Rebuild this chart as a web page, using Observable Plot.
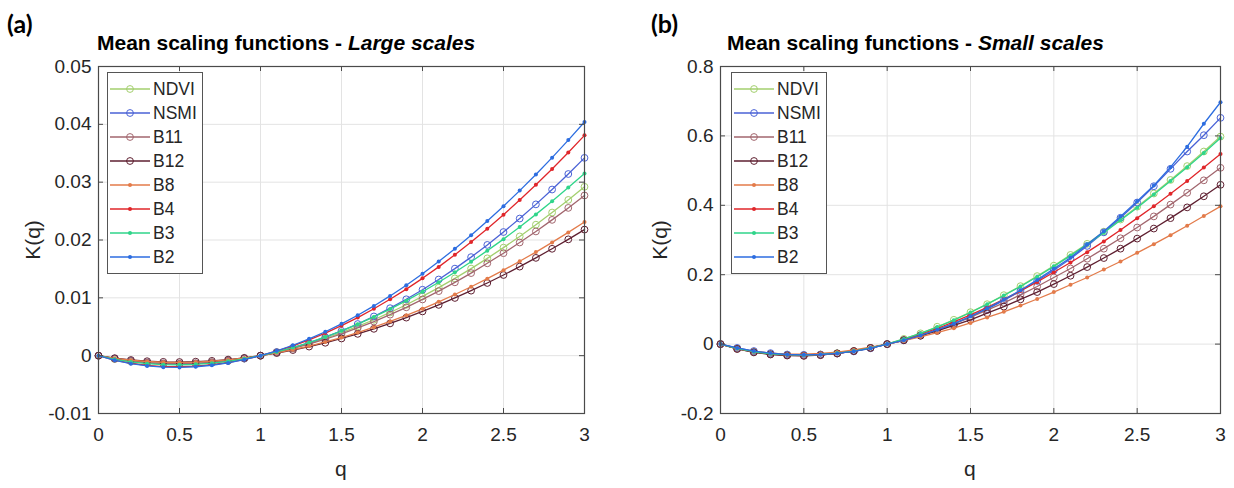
<!DOCTYPE html>
<html><head><meta charset="utf-8">
<script src="https://cdn.jsdelivr.net/npm/d3@7"></script>
<script src="https://cdn.jsdelivr.net/npm/@observablehq/plot@0.6"></script>
<style>
body{margin:0;background:#fff;}
#wrap{position:relative;width:1234px;height:488px;overflow:hidden;font-family:"Liberation Sans",Arial,sans-serif;color:#262626;}
.abs{position:absolute;white-space:nowrap;}
.title{font-weight:bold;font-size:21px;color:#000;line-height:24px;}
.tag{font-family:Lato,"Liberation Sans",sans-serif;font-weight:bold;font-size:25px;color:#000;line-height:26px;}
.axlab{font-size:21px;line-height:22px;}
.legend{position:absolute;background:#fff;border:1px solid #555;box-sizing:border-box;}
.legend .row{display:flex;align-items:center;height:24px;font-size:17.5px;}
.legend svg{margin-right:3px;}
</style></head><body><div id="wrap"></div><script>
// q values
const qVals = [0,0.1,0.2,0.3,0.4,0.5,0.6,0.7,0.8,0.9,1,1.1,1.2,1.3,1.4,1.5,1.6,1.7,1.8,1.9,2,2.1,2.2,2.3,2.4,2.5,2.6,2.7,2.8,2.9,3];
const seriesNames = ["NDVI","NSMI","B11","B12","B8","B4","B3","B2"];
const seriesColors = ["#a3cf6e","#4a62d6","#a2666e","#5e1f30","#e37b4a","#e0262a","#2fd58a","#2c6de0"];
const seriesMarkers = ["circle","circle","circle","circle","dot","dot","dot","dot"];
const xTickVals = [0,0.5,1,1.5,2,2.5,3];
const yTicksLarge = [-0.01,0,0.01,0.02,0.03,0.04,0.05];
const yTicksSmall = [-0.2,0,0.2,0.4,0.6,0.8];

// (a) Large scales
const kLargeNDVI = [0,-0.00058,-0.001,-0.00128,-0.00144,-0.00147,-0.00139,-0.0012,-0.00091,-0.0005,0,0.0006,0.0013,0.0021,0.00299,0.00397,0.00505,0.00621,0.00747,0.00881,0.01024,0.01176,0.01337,0.01506,0.01683,0.01868,0.02062,0.02265,0.02475,0.02693,0.0292];
const kLargeNSMI = [0,-0.00051,-0.00091,-0.0012,-0.00137,-0.00143,-0.00137,-0.0012,-0.00091,-0.00051,0,0.00063,0.00137,0.00222,0.00319,0.00428,0.00547,0.00678,0.00821,0.00975,0.0114,0.01317,0.01505,0.01704,0.01915,0.02138,0.02371,0.02616,0.02873,0.03141,0.0342];
const kLargeB11 = [0,-0.00055,-0.00095,-0.00122,-0.00136,-0.0014,-0.00132,-0.00114,-0.00086,-0.00048,0,0.00057,0.00124,0.00199,0.00284,0.00377,0.00479,0.0059,0.00709,0.00836,0.00972,0.01116,0.01268,0.01428,0.01597,0.01772,0.01957,0.02148,0.02348,0.02555,0.0277];
const kLargeB12 = [0,-0.00043,-0.00075,-0.00096,-0.00107,-0.0011,-0.00104,-0.0009,-0.00068,-0.00038,0,0.00045,0.00097,0.00157,0.00223,0.00297,0.00377,0.00464,0.00558,0.00658,0.00765,0.00878,0.00998,0.01124,0.01257,0.01395,0.0154,0.01691,0.01848,0.02011,0.0218];
const kLargeB8 = [0,-0.00046,-0.00079,-0.00101,-0.00114,-0.00116,-0.0011,-0.00095,-0.00072,-0.0004,0,0.00048,0.00103,0.00166,0.00237,0.00314,0.00399,0.00492,0.00591,0.00697,0.0081,0.00931,0.01058,0.01191,0.01332,0.01478,0.01632,0.01791,0.01958,0.02131,0.0231];
const kLargeB4 = [0,-0.00076,-0.00131,-0.00167,-0.00188,-0.00192,-0.00181,-0.00157,-0.00118,-0.00066,0,0.00079,0.0017,0.00274,0.0039,0.00519,0.00659,0.00811,0.00975,0.0115,0.01337,0.01535,0.01744,0.01964,0.02196,0.02438,0.02691,0.02955,0.03229,0.03514,0.0381];
const kLargeB3 = [0,-0.00063,-0.00108,-0.00138,-0.00155,-0.00159,-0.0015,-0.0013,-0.00098,-0.00054,0,0.00065,0.00141,0.00227,0.00323,0.00429,0.00545,0.0067,0.00806,0.00951,0.01105,0.01269,0.01442,0.01624,0.01816,0.02015,0.02225,0.02443,0.0267,0.02906,0.0315];
const kLargeB2 = [0,-0.0008,-0.00139,-0.00177,-0.00199,-0.00204,-0.00192,-0.00166,-0.00125,-0.0007,0,0.00083,0.0018,0.00291,0.00414,0.0055,0.00699,0.0086,0.01033,0.01219,0.01417,0.01627,0.0185,0.02083,0.02329,0.02585,0.02854,0.03133,0.03424,0.03727,0.0404];

// (b) Small scales
const kSmallNDVI = [0,-0.013,-0.022,-0.028,-0.031,-0.032,-0.030,-0.026,-0.020,-0.011,0,0.015,0.031,0.050,0.070,0.092,0.115,0.141,0.167,0.196,0.226,0.257,0.289,0.324,0.359,0.396,0.434,0.473,0.513,0.555,0.598];
const kSmallNSMI = [0,-0.011,-0.020,-0.026,-0.030,-0.031,-0.030,-0.027,-0.021,-0.012,0,0.011,0.0245,0.040,0.058,0.078,0.101,0.126,0.153,0.182,0.213,0.246,0.283,0.322,0.364,0.408,0.455,0.505,0.555,0.602,0.652];
const kSmallB11 = [0,-0.014,-0.023,-0.029,-0.032,-0.033,-0.031,-0.027,-0.020,-0.011,0,0.012,0.026,0.042,0.059,0.078,0.098,0.119,0.142,0.166,0.192,0.218,0.246,0.275,0.305,0.336,0.368,0.402,0.436,0.472,0.508];
const kSmallB12 = [0,-0.014,-0.024,-0.030,-0.033,-0.034,-0.032,-0.027,-0.020,-0.011,0,0.011,0.024,0.038,0.054,0.070,0.089,0.108,0.129,0.150,0.173,0.197,0.222,0.248,0.275,0.304,0.333,0.363,0.394,0.426,0.459];
const kSmallB8 = [0,-0.013,-0.021,-0.026,-0.029,-0.029,-0.027,-0.023,-0.017,-0.009,0,0.010,0.021,0.033,0.046,0.061,0.077,0.093,0.111,0.130,0.150,0.171,0.192,0.215,0.238,0.263,0.288,0.314,0.341,0.369,0.397];
const kSmallB4 = [0,-0.013,-0.022,-0.028,-0.032,-0.033,-0.031,-0.027,-0.020,-0.011,0,0.013,0.029,0.045,0.064,0.084,0.106,0.129,0.153,0.179,0.207,0.235,0.265,0.296,0.329,0.363,0.397,0.433,0.470,0.509,0.548];
const kSmallB3 = [0,-0.013,-0.022,-0.028,-0.031,-0.032,-0.030,-0.026,-0.020,-0.011,0,0.015,0.031,0.049,0.069,0.091,0.115,0.140,0.166,0.194,0.224,0.255,0.288,0.321,0.357,0.393,0.431,0.470,0.510,0.551,0.594];
const kSmallB2 = [0,-0.011,-0.020,-0.026,-0.030,-0.031,-0.030,-0.027,-0.021,-0.012,0,0.011,0.025,0.041,0.059,0.080,0.103,0.128,0.155,0.185,0.217,0.249,0.287,0.325,0.368,0.412,0.457,0.510,0.569,0.635,0.697];

const largeData = [kLargeNDVI,kLargeNSMI,kLargeB11,kLargeB12,kLargeB8,kLargeB4,kLargeB3,kLargeB2];
const smallData = [kSmallNDVI,kSmallNSMI,kSmallB11,kSmallB12,kSmallB8,kSmallB4,kSmallB3,kSmallB2];

const wrap = document.getElementById("wrap");
const H = 488, mT = 66, mB = 75;
const frameColor = "#4a4a4a";
const gridColor = "#e3e3e3";

function makePanel(cfg) {
  const {data, yDomain, yTicks, left, width, mL, mR} = cfg;
  const innerW = width - mL - mR, innerH = H - mT - mB;
  const marks = [
    Plot.gridX(xTickVals, {stroke: gridColor, strokeOpacity: 1}),
    Plot.gridY(yTicks, {stroke: gridColor, strokeOpacity: 1})
  ];
  seriesNames.forEach((s, i) => {
    const rows = qVals.map((qq, j) => ({q: qq, k: data[i][j]}));
    marks.push(Plot.line(rows, {x: "q", y: "k", stroke: seriesColors[i], strokeWidth: 1.3}));
    if (seriesMarkers[i] === "circle") {
      marks.push(Plot.dot(rows, {x: "q", y: "k", r: 3.4, stroke: seriesColors[i], fill: "none", strokeWidth: 1}));
    } else {
      marks.push(Plot.dot(rows, {x: "q", y: "k", r: 2, fill: seriesColors[i], stroke: "none"}));
    }
  });
  marks.push(
    Plot.frame({stroke: frameColor, strokeWidth: 1.2}),
    Plot.tickX(xTickVals, {x: d => d, insetTop: innerH - 5, stroke: frameColor}),
    Plot.tickX(xTickVals, {x: d => d, insetBottom: innerH - 5, stroke: frameColor}),
    Plot.tickY(yTicks, {y: d => d, insetRight: innerW - 5, stroke: frameColor}),
    Plot.tickY(yTicks, {y: d => d, insetLeft: innerW - 5, stroke: frameColor}),
    Plot.axisX(xTickVals, {tickSize: 0, tickPadding: 14, tickFormat: d => String(d), fontSize: 19, label: null}),
    Plot.axisY(yTicks, {tickSize: 0, tickPadding: 7, tickFormat: d => String(d), fontSize: 19, label: null})
  );
  const svg = Plot.plot({
    width, height: H,
    marginLeft: mL, marginRight: mR, marginTop: mT, marginBottom: mB,
    x: {domain: [0, 3], label: null},
    y: {domain: yDomain, label: null},
    style: {fontFamily: '"Liberation Sans", Arial, sans-serif', fontSize: "19px", color: "#262626", background: "transparent", overflow: "visible"},
    marks
  });
  svg.style.position = "absolute";
  svg.style.left = left + "px";
  svg.style.top = "0px";
  wrap.appendChild(svg);
}

makePanel({data: largeData, yDomain: [-0.01, 0.05], yTicks: yTicksLarge, left: 0, width: 617, mL: 98, mR: 33});
makePanel({data: smallData, yDomain: [-0.2, 0.8], yTicks: yTicksSmall, left: 617, width: 617, mL: 103, mR: 14});

function addDiv(cls, html, css) {
  const d = document.createElement("div");
  d.className = cls;
  d.innerHTML = html;
  Object.assign(d.style, css);
  wrap.appendChild(d);
  return d;
}
// panel tags and titles
addDiv("abs tag", "(a)", {left: "7px", top: "10px"});
addDiv("abs tag", "(b)", {left: "651px", top: "10px"});
addDiv("abs title", "Mean scaling functions - <i>Large scales</i>", {left: "97px", top: "31px"});
addDiv("abs title", "Mean scaling functions - <i>Small scales</i>", {left: "727px", top: "31px"});
// axis labels
addDiv("abs axlab", "q", {left: "335px", top: "458px"});
addDiv("abs axlab", "q", {left: "964px", top: "458px"});
addDiv("abs axlab", "K(q)", {left: "33px", top: "240px", transform: "translate(-50%,-50%) rotate(-90deg)"});
addDiv("abs axlab", "K(q)", {left: "660px", top: "240px", transform: "translate(-50%,-50%) rotate(-90deg)"});

// legends
function addLegend(left, top) {
  const box = document.createElement("div");
  box.className = "legend";
  Object.assign(box.style, {left: left + "px", top: top + "px", padding: "4px 5px 4px 2px"});
  seriesNames.forEach((s, i) => {
    const row = document.createElement("div");
    row.className = "row";
    const c = seriesColors[i];
    const mk = seriesMarkers[i] === "circle"
      ? `<circle cx="20" cy="6" r="3.4" fill="none" stroke="${c}" stroke-width="1"/>`
      : `<circle cx="20" cy="6" r="2" fill="${c}"/>`;
    row.innerHTML = `<svg width="40" height="12"><line x1="0" y1="6" x2="40" y2="6" stroke="${c}" stroke-width="1.3"/>${mk}</svg><span>${s}</span>`;
    box.appendChild(row);
  });
  wrap.appendChild(box);
}
addLegend(107, 72);
addLegend(731, 72);
</script></body></html>
